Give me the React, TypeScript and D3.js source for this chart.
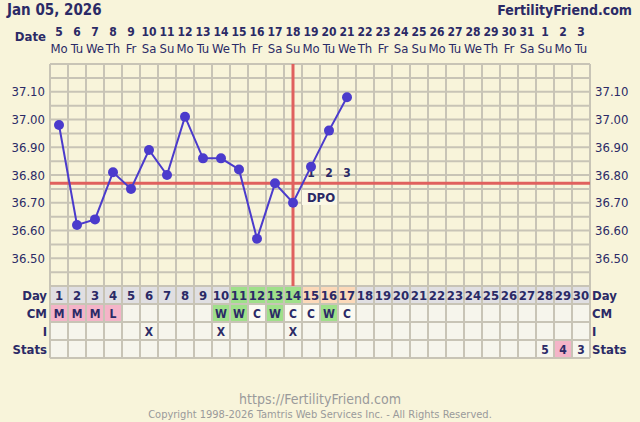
import React from "react";
import * as d3 from "d3";

const dates = [5, 6, 7, 8, 9, 10, 11, 12, 13, 14, 15, 16, 17, 18, 19, 20, 21, 22, 23, 24, 25, 26, 27, 28, 29, 30, 31, 1, 2, 3];
const weekdays = ["Mo", "Tu", "We", "Th", "Fr", "Sa", "Su", "Mo", "Tu", "We", "Th", "Fr", "Sa", "Su", "Mo", "Tu", "We", "Th", "Fr", "Sa", "Su", "Mo", "Tu", "We", "Th", "Fr", "Sa", "Su", "Mo", "Tu"];
const temps = [36.98, 36.62, 36.64, 36.81, 36.75, 36.89, 36.80, 37.01, 36.86, 36.86, 36.82, 36.57, 36.77, 36.70, 36.83, 36.96, 37.08];
const cmValues = ["M", "M", "M", "L", "", "", "", "", "", "W", "W", "C", "W", "C", "C", "W", "C"];
const intercourseDays = [6, 10, 14];
const statsValues: [number, string][] = [[28, "5"], [29, "4"], [30, "3"]];
const fertileDays = [11, 12, 13, 14];
const lutealDays = [15, 16, 17];
const dpoLabels = ["1", "2", "3"];
const coverline = 36.77;
const ovulationDay = 14;
const yTicks = [36.5, 36.6, 36.7, 36.8, 36.9, 37.0, 37.1];

const BG = "#f8f4da";
const GRID = "#c8c4b6";
const TXT = "#2b2a66";
const LINE = "#4b3bcc";
const RED = "#e0605e";
const FONT = "'DejaVu Sans Condensed', Tahoma, 'DejaVu Sans', sans-serif";

export default function App() {
  const nDays = 30;
  const x0 = 50;
  const col = 18;
  const x = d3.scaleLinear().domain([0, nDays]).range([x0, x0 + col * nDays]);
  const cx = (d: number) => x(d - 0.5);
  const y = d3.scaleLinear().domain([36.4, 37.2]).range([286, 64]);
  const rowTop = [286, 304, 322, 340];
  const rowH = 18;
  const gridBottom = 358;
  const hLines = d3.range(0, 17).map((i) => 36.4 + i * 0.05);
  const line = d3
    .line<number>()
    .x((_, i) => cx(i + 1))
    .y((d) => y(d));
  const days = d3.range(1, nDays + 1);

  const cmFill = (v: string) =>
    v === "M" || v === "L" ? "#f4b4c8" : v === "W" ? "#9fe08a" : v === "C" ? "#fbfaf2" : "#f6f5ec";
  const dayFill = (d: number) =>
    fertileDays.includes(d) ? "#9fe08a" : lutealDays.includes(d) ? "#fcd9b9" : "#e0dfe2";

  return (
    <svg
      width={640}
      height={422}
      style={{ position: "absolute", left: 0, top: 0, background: BG, fontFamily: FONT }}
    >
      <rect x={0} y={0} width={640} height={422} fill={BG} />
      <text x={7} y={15} fontSize={15} fontWeight="bold" fill={TXT}>Jan 05, 2026</text>
      <text x={632} y={15} fontSize={14} fontWeight="bold" fill={TXT} textAnchor="end">FertilityFriend.com</text>
      <text x={46} y={41} fontSize={13} fontWeight="bold" fill={TXT} textAnchor="end">Date</text>
      {days.map((d, i) => (
        <g key={"dt" + d}>
          <text x={cx(d)} y={36} fontSize={12} fontWeight="bold" fill={TXT} textAnchor="middle">{dates[i]}</text>
          <text x={cx(d)} y={53} fontSize={13} fill={TXT} textAnchor="middle">{weekdays[i]}</text>
        </g>
      ))}

      {/* bottom table backgrounds */}
      {days.map((d, i) => (
        <g key={"cells" + d}>
          <rect x={x(d - 1)} y={rowTop[0]} width={col} height={rowH} fill={dayFill(d)} />
          <rect x={x(d - 1)} y={rowTop[1]} width={col} height={rowH} fill={cmFill(cmValues[i] || "")} />
          <rect x={x(d - 1)} y={rowTop[2]} width={col} height={rowH} fill="#f6f5ec" />
          <rect
            x={x(d - 1)}
            y={rowTop[3]}
            width={col}
            height={rowH}
            fill={d === 29 ? "#f4b4c8" : "#f6f5ec"}
          />
        </g>
      ))}

      {/* grid */}
      {hLines.map((v, i) => (
        <line key={"h" + i} x1={x0} x2={x(nDays)} y1={y(v)} y2={y(v)} stroke={GRID} strokeWidth={2} />
      ))}
      {rowTop.slice(1).concat([gridBottom]).map((yy, i) => (
        <line key={"rh" + i} x1={x0} x2={x(nDays)} y1={yy} y2={yy} stroke={GRID} strokeWidth={2} />
      ))}
      {d3.range(0, nDays + 1).map((k) => (
        <line key={"v" + k} x1={x(k)} x2={x(k)} y1={64} y2={gridBottom} stroke={GRID} strokeWidth={2} />
      ))}
      <rect x={302} y={190} width={35} height={15} fill="#fbf8e6" />

      {/* y labels */}
      {yTicks.map((t) => (
        <g key={"yt" + t}>
          <text x={45} y={y(t) + 4.5} fontSize={13} fill={TXT} textAnchor="end">{t.toFixed(2)}</text>
          <text x={595} y={y(t) + 4.5} fontSize={13} fill={TXT}>{t.toFixed(2)}</text>
        </g>
      ))}

      {/* coverline & ovulation */}
      <line x1={x0} x2={x(nDays)} y1={y(coverline)} y2={y(coverline)} stroke={RED} strokeWidth={3} />
      <line x1={cx(ovulationDay)} x2={cx(ovulationDay)} y1={64} y2={286} stroke={RED} strokeWidth={3} />

      {/* DPO */}
      {dpoLabels.map((l, i) => (
        <text key={"dpo" + l} x={cx(ovulationDay + 1 + i)} y={177} fontSize={12} fontWeight="bold" fill={TXT} textAnchor="middle">{l}</text>
      ))}
      <text x={321} y={202} fontSize={13} fontWeight="bold" fill={TXT} textAnchor="middle">DPO</text>

      {/* temperature line */}
      <path d={line(temps) || ""} fill="none" stroke={LINE} strokeWidth={2} />
      {temps.map((t, i) => (
        <circle key={"p" + i} cx={cx(i + 1)} cy={y(t)} r={5} fill={LINE} />
      ))}

      {/* table text */}
      {["Day", "CM", "I", "Stats"].map((l, i) => (
        <g key={"rl" + l}>
          <text x={47} y={rowTop[i] + 14} fontSize={13} fontWeight="bold" fill={TXT} textAnchor="end">{l}</text>
          <text x={592} y={rowTop[i] + 14} fontSize={13} fontWeight="bold" fill={TXT}>{l}</text>
        </g>
      ))}
      {days.map((d, i) => (
        <g key={"tt" + d}>
          <text x={cx(d)} y={rowTop[0] + 14} fontSize={13} fontWeight="bold" fill={TXT} textAnchor="middle">{d}</text>
          {cmValues[i] ? (
            <text x={cx(d)} y={rowTop[1] + 13.5} fontSize={12} fontWeight="bold" fill={TXT} textAnchor="middle">{cmValues[i]}</text>
          ) : null}
          {intercourseDays.includes(d) ? (
            <text x={cx(d)} y={rowTop[2] + 13.5} fontSize={12} fontWeight="bold" fill={TXT} textAnchor="middle">X</text>
          ) : null}
        </g>
      ))}
      {statsValues.map(([d, v]) => (
        <text key={"st" + d} x={cx(d)} y={rowTop[3] + 14} fontSize={12} fontWeight="bold" fill={TXT} textAnchor="middle">{v}</text>
      ))}

      {/* footer */}
      <text x={320} y={404} fontSize={14} fill="#9a9a9a" textAnchor="middle">https://FertilityFriend.com</text>
      <text x={320} y={418} fontSize={11} fill="#9a9a9a" textAnchor="middle">Copyright 1998-2026 Tamtris Web Services Inc. - All Rights Reserved.</text>
    </svg>
  );
}
